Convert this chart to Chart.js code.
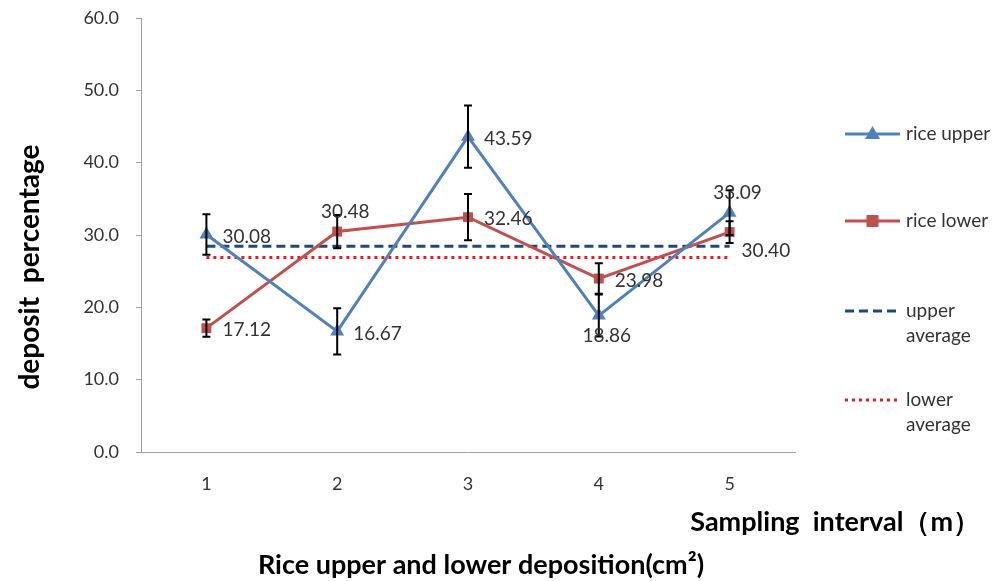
<!DOCTYPE html>
<html>
<head>
<meta charset="utf-8">
<script src="https://cdn.jsdelivr.net/npm/chart.js@4.4.1/dist/chart.umd.min.js"></script>
<style>
  html, body { margin: 0; padding: 0; background: #fff; }
  #wrap { width: 995px; height: 581px; }
</style>
</head>
<body>
<div id="wrap"><canvas id="depositChart" width="995" height="581"></canvas></div>
<script>
    // values
    var intervals = ['1', '2', '3', '4', '5'];
    var riceUpper = [30.08, 16.67, 43.59, 18.86, 33.09];
    var riceLower = [17.12, 30.48, 32.46, 23.98, 30.40];
    var upperErr = [2.8, 3.2, 4.3, 2.9, 3.1];
    var lowerErr = [1.2, 2.3, 3.2, 2.1, 1.5];
    var upperAverage = [28.46, 28.46, 28.46, 28.46, 28.46];
    var lowerAverage = [26.89, 26.89, 26.89, 26.89, 26.89];
    var yTicks = [0, 10, 20, 30, 40, 50, 60];

    // where each point's number sits
    var upperLabelPos = ['right', 'right', 'right', 'below', 'above'];
    var lowerLabelPos = ['right', 'above', 'right', 'right', 'rightlow'];

    var FONT = 'Lato, "Open Sans", sans-serif';

    var errorBars = {
        id: 'errorBars',
        afterDatasetsDraw: function(chart) {
            var ctx = chart.ctx;
            var y = chart.scales.y;
            var sets = [[0, riceUpper, upperErr], [1, riceLower, lowerErr]];
            ctx.save();
            ctx.strokeStyle = '#000';
            ctx.lineWidth = 2;
            sets.forEach(function(s) {
                var meta = chart.getDatasetMeta(s[0]);
                meta.data.forEach(function(pt, i) {
                    var top = y.getPixelForValue(s[1][i] + s[2][i]);
                    var bot = y.getPixelForValue(s[1][i] - s[2][i]);
                    ctx.beginPath();
                    ctx.moveTo(pt.x, top); ctx.lineTo(pt.x, bot);
                    ctx.moveTo(pt.x - 4, top); ctx.lineTo(pt.x + 4, top);
                    ctx.moveTo(pt.x - 4, bot); ctx.lineTo(pt.x + 4, bot);
                    ctx.stroke();
                });
            });
            ctx.restore();
        }
    };

    var pointLabels = {
        id: 'pointLabels',
        afterDraw: function(chart) {
            var ctx = chart.ctx;
            ctx.save();
            ctx.font = '19px ' + FONT;
            ctx.fillStyle = '#333';
            [[0, riceUpper, upperLabelPos], [1, riceLower, lowerLabelPos]].forEach(function(s) {
                var meta = chart.getDatasetMeta(s[0]);
                meta.data.forEach(function(pt, i) {
                    var txt = s[1][i].toFixed(2);
                    var pos = s[2][i];
                    ctx.textBaseline = 'middle';
                    if (pos == 'right') {
                        ctx.textAlign = 'left';
                        ctx.fillText(txt, pt.x + 16, pt.y + 2);
                    } else if (pos == 'rightlow') {
                        ctx.textAlign = 'left';
                        ctx.fillText(txt, pt.x + 12, pt.y + 19);
                    } else if (pos == 'above') {
                        ctx.textAlign = 'center';
                        ctx.fillText(txt, pt.x + 8, pt.y - 20);
                    } else {
                        ctx.textAlign = 'center';
                        ctx.fillText(txt, pt.x + 8, pt.y + 20);
                    }
                });
            });
            ctx.restore();
        }
    };

    var sideText = {
        id: 'sideText',
        afterDraw: function(chart) {
            var ctx = chart.ctx;
            ctx.save();
            ctx.fillStyle = '#000';
            ctx.textBaseline = 'middle';
            ctx.font = 'bold 27px ' + FONT;
            ctx.textAlign = 'right';
            ctx.fillText('Sampling  interval（m）', 980, 522);
            ctx.textAlign = 'center';
            ctx.fillText('Rice upper and lower deposition(cm\u00b2)', 481, 565);

            ctx.save();
            ctx.translate(30, 267);
            ctx.rotate(-Math.PI / 2);
            ctx.font = 'bold 28px ' + FONT;
            ctx.fillText('deposit  percentage', 0, 0);
            ctx.restore();

            // legend
            var items = [
                {lines: ['rice upper'], y: 134, ds: 0},
                {lines: ['rice lower'], y: 221, ds: 1},
                {lines: ['upper', 'average'], y: 311, ds: 2},
                {lines: ['lower', 'average'], y: 400, ds: 3}
            ];
            ctx.font = '19px ' + FONT;
            ctx.textAlign = 'left';
            items.forEach(function(it) {
                var d = chart.data.datasets[it.ds];
                ctx.save();
                ctx.strokeStyle = d.borderColor;
                ctx.lineWidth = d.borderWidth;
                ctx.setLineDash(d.borderDash || []);
                ctx.beginPath();
                ctx.moveTo(845, it.y); ctx.lineTo(900, it.y);
                ctx.stroke();
                ctx.restore();
                if (d.pointStyle == 'triangle') {
                    ctx.fillStyle = d.backgroundColor;
                    ctx.beginPath();
                    ctx.moveTo(872.5, it.y - 8); ctx.lineTo(880, it.y + 5); ctx.lineTo(865, it.y + 5);
                    ctx.closePath(); ctx.fill();
                } else if (d.pointStyle == 'rect') {
                    ctx.fillStyle = d.backgroundColor;
                    ctx.fillRect(866.5, it.y - 6, 12, 12);
                }
                ctx.fillStyle = '#333';
                it.lines.forEach(function(t, k) {
                    ctx.fillText(t, 906, it.y + k * 25);
                });
            });
            ctx.restore();
        }
    };

    var ctx = document.getElementById('depositChart').getContext('2d');
    var depositChart = new Chart(ctx, {
        type: 'line',
        data: {
            labels: intervals,
            datasets: [{
                label: 'rice upper',
                data: riceUpper,
                borderColor: '#4F81BD',
                backgroundColor: '#4F81BD',
                borderWidth: 3,
                pointStyle: 'triangle',
                pointRadius: 8,
                pointBorderWidth: 0,
                tension: 0,
                order: 1
            },
            {
                label: 'rice lower',
                data: riceLower,
                borderColor: '#C0504D',
                backgroundColor: '#C0504D',
                borderWidth: 3,
                pointStyle: 'rect',
                pointRadius: 7,
                pointBorderWidth: 0,
                tension: 0,
                order: 2
            },
            {
                label: 'upper average',
                data: upperAverage,
                borderColor: '#1F497D',
                borderWidth: 3,
                borderDash: [9, 5],
                pointRadius: 0,
                order: 3
            },
            {
                label: 'lower average',
                data: lowerAverage,
                borderColor: '#E01E2A',
                borderWidth: 3,
                borderDash: [3, 4],
                pointRadius: 0,
                order: 4
            }]
        },
        options: {
            responsive: false,
            animation: false,
            layout: { autoPadding: false, padding: { left: 0, right: 200, top: 18, bottom: 0 } },
            plugins: {
                legend: { display: false },
                tooltip: { enabled: false }
            },
            scales: {
                x: {
                    offset: true,
                    grid: { display: false, drawTicks: false },
                    border: { color: '#A0A0A0', width: 1 },
                    ticks: { color: '#333', font: { size: 18, family: FONT }, padding: 21 },
                    afterFit: function(s) { s.height = 129; s.paddingLeft = 0; s.paddingRight = 0; }
                },
                y: {
                    min: 0,
                    max: 60,
                    afterBuildTicks: function(s) { s.ticks = yTicks.map(function(v) { return {value: v}; }); },
                    grid: { drawOnChartArea: false, drawTicks: true, tickLength: 5, color: '#A0A0A0' },
                    border: { color: '#A0A0A0', width: 1 },
                    ticks: {
                        color: '#333',
                        font: { size: 18, family: FONT },
                        padding: 17,
                        callback: function(v) { return Number(v).toFixed(1); }
                    },
                    afterFit: function(s) { s.width = 141; s.paddingTop = 0; s.paddingBottom = 0; }
                }
            }
        },
        plugins: [errorBars, pointLabels, sideText]
    });
</script>
</body>
</html>
